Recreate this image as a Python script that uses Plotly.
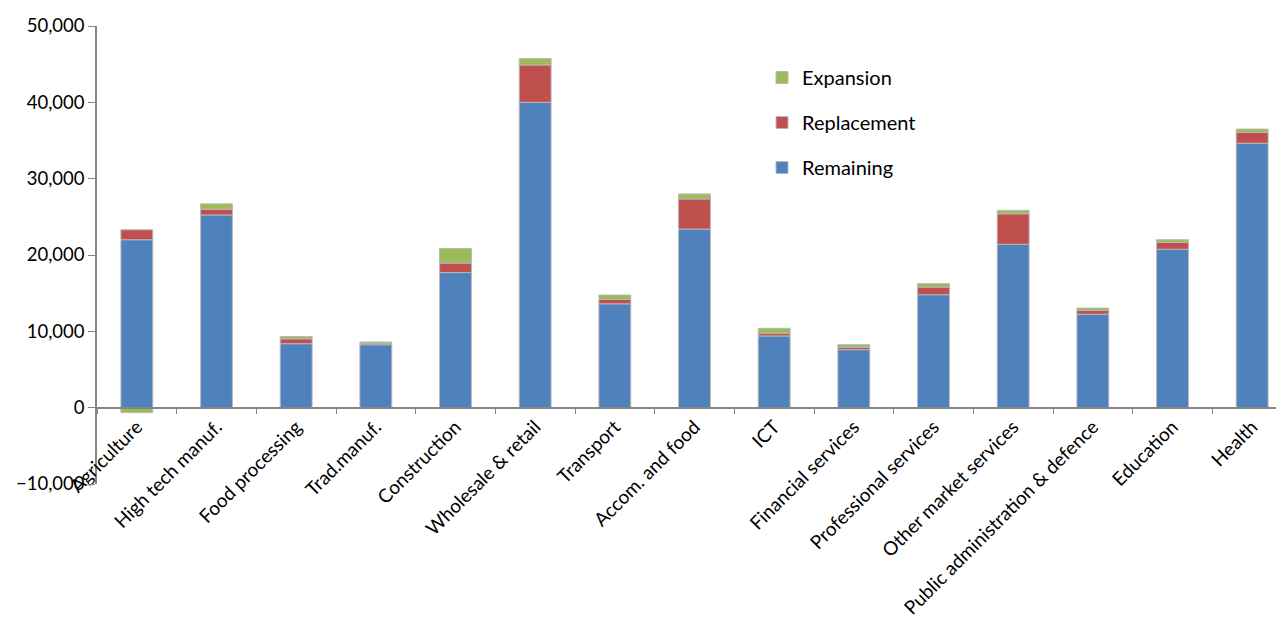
import plotly.graph_objects as go

categories = [
    'Agriculture', 'High tech manuf.', 'Food processing', 'Trad.manuf.',
    'Construction', 'Wholesale & retail', 'Transport', 'Accom. and food',
    'ICT', 'Financial services', 'Professional services',
    'Other market services', 'Public administration & defence',
    'Education', 'Health',
]
remaining = [22000, 25250, 8380, 8250, 17700, 40000, 13600, 23400,
             9400, 7600, 14800, 21400, 12250, 20750, 34650]
replacement = [1300, 750, 650, 200, 1250, 4900, 600, 3950,
               350, 300, 1000, 4000, 500, 900, 1400]
expansion = [-650, 700, 300, 150, 1900, 850, 550, 650,
             650, 350, 450, 450, 300, 350, 450]

font_family = 'Lato, "Open Sans", sans-serif'
axis_grey = '#868686'

fig = go.Figure()
series = [
    ('Remaining', remaining, '#4F81BD', 3),
    ('Replacement', replacement, '#C0504D', 2),
    ('Expansion', expansion, '#9BBB59', 1),
]
for name, values, color, rank in series:
    fig.add_trace(go.Bar(
        x=categories,
        y=values,
        name=name,
        legendgroup=name,
        legendrank=rank,
        width=0.4,
        marker=dict(color=color, line=dict(color='#b8b8b8', width=1)),
    ))

fig.update_layout(
    barmode='relative',
    width=1284,
    height=632,
    margin=dict(l=89, r=0, t=18, b=156),
    plot_bgcolor='white',
    paper_bgcolor='white',
    font=dict(family=font_family, size=19, color='black'),
    showlegend=True,
    legend=dict(
        x=0.5565, y=0.93, xanchor='left', yanchor='top',
        traceorder='grouped',
        tracegroupgap=16,
        font=dict(size=20),
        bgcolor='rgba(0,0,0,0)',
        itemwidth=30,
    ),
    xaxis=dict(
        anchor='free',
        position=1 / 6,
        tickangle=-45,
        ticks='outside',
        tickson='boundaries',
        ticklen=6,
        tickcolor=axis_grey,
        showline=True,
        linecolor=axis_grey,
        linewidth=1.5,
        showgrid=False,
        tickfont=dict(size=19),
    ),
    yaxis=dict(
        range=[-10000, 50000],
        tickvals=[-10000, 0, 10000, 20000, 30000, 40000, 50000],
        tickformat=',',
        ticks='outside',
        ticklen=7,
        tickcolor=axis_grey,
        showline=True,
        linecolor=axis_grey,
        linewidth=1.5,
        showgrid=False,
        zeroline=False,
        tickfont=dict(size=18.5),
    ),
)

fig.write_html("out.html")
